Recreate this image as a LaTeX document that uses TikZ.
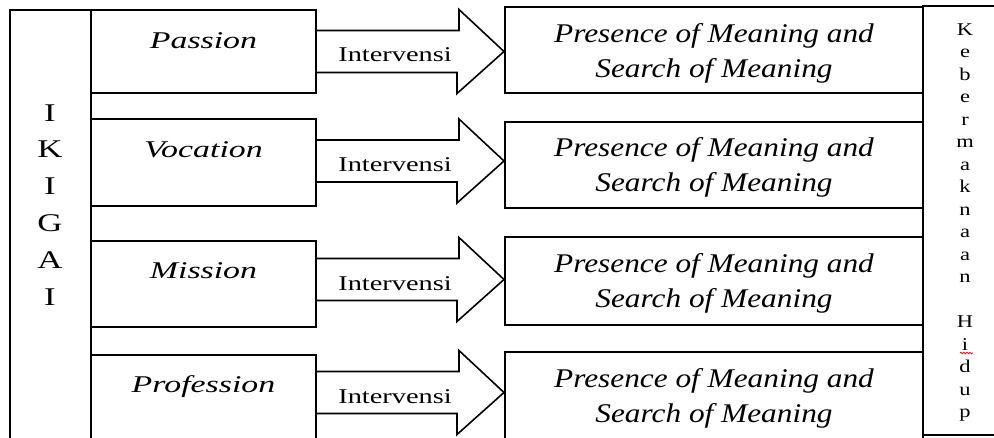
\documentclass[tikz,border=0pt]{standalone}
\usepackage{fontspec}
\setmainfont{Liberation Serif}
\usepackage{graphicx}
\usetikzlibrary{calc,decorations.pathmorphing}
\newcommand\hs[2]{\scalebox{#1}[1]{#2}}
\newcommand\blockarrow[3]{%
  \draw[arrowshape] (#1.east |- 0,#3) ++(0,-21) -- ++(142,0) -- ++(0,-21)
    -- (#2.west |- 0,#3) -- ++(-47,42) -- ++(0,-21) -- ++(-142,0);}
\tikzset{
  boxs/.style={draw=black, line width=2pt, inner sep=0pt},
  arrowshape/.style={draw=black, line width=1.6pt, line join=miter, miter limit=10},
  lefttext/.style={inner sep=0pt, anchor=base, font=\fontsize{24}{28}\selectfont\itshape},
  righttext/.style={inner sep=0pt, align=center, font=\fontsize{27}{35}\selectfont\itshape},
  intv/.style={inner sep=0pt, anchor=base, font=\fontsize{21}{24}\selectfont},
  ikletter/.style={inner sep=0pt, anchor=base, font=\fontsize{25.5}{28}\selectfont},
  kbletter/.style={inner sep=0pt, anchor=base, font=\fontsize{18}{20}\selectfont},
}
\begin{document}
\begin{tikzpicture}[x=1pt,y=-1pt]
\useasboundingbox (0,0) rectangle (994,437);
\clip (0,0) rectangle (994,437);
\fill[white] (0,0) rectangle (994,437);

% big side boxes
\node[boxs, minimum width=81, minimum height=450] (ik) at (50.5,235) {};
\node[boxs, minimum width=77, minimum height=429] (kb) at (961.5,220.5) {};

% left boxes
\node[boxs, minimum width=225, minimum height=83]  (L1) at (203.5,51.5) {};
\node[boxs, minimum width=225, minimum height=87]  (L2) at (203.5,162.5) {};
\node[boxs, minimum width=225, minimum height=86]  (L3) at (203.5,284) {};
\node[boxs, minimum width=225, minimum height=110] (L4) at (203.5,410) {};

% right boxes
\node[boxs, minimum width=418, minimum height=86]  (P1) at (714,50) {};
\node[boxs, minimum width=418, minimum height=86]  (P2) at (714,165) {};
\node[boxs, minimum width=418, minimum height=88]  (P3) at (714,281) {};
\node[boxs, minimum width=418, minimum height=108] (P4) at (714,406) {};

% left labels
\node[lefttext] (t1) at (203.5,48)  {\hs{1.41}{Passion}};
\node[lefttext] (t2) at (203.5,157) {\hs{1.41}{Vocation}};
\node[lefttext] (t3) at (203.5,278) {\hs{1.41}{Mission}};
\node[lefttext] (t4) at (203.5,392) {\hs{1.41}{Profession}};

% right labels
\node[righttext] (m1) at (714,53)  {\hs{1.16}{Presence of Meaning and}\\\hs{1.16}{Search of Meaning}};
\node[righttext] (m2) at (714,167) {\hs{1.16}{Presence of Meaning and}\\\hs{1.16}{Search of Meaning}};
\node[righttext] (m3) at (714,283) {\hs{1.16}{Presence of Meaning and}\\\hs{1.16}{Search of Meaning}};
\node[righttext] (m4) at (714,398) {\hs{1.16}{Presence of Meaning and}\\\hs{1.16}{Search of Meaning}};

% block arrows
\blockarrow{L1}{P1}{51.5}
\blockarrow{L2}{P2}{161}
\blockarrow{L3}{P3}{279.5}
\blockarrow{L4}{P4}{392.5}

\node[intv] (i1) at (395,61)  {\hs{1.35}{Intervensi}};
\node[intv] (i2) at (395,171) {\hs{1.35}{Intervensi}};
\node[intv] (i3) at (395,290) {\hs{1.35}{Intervensi}};
\node[intv] (i4) at (395,403) {\hs{1.35}{Intervensi}};

% IKIGAI
\foreach \ch [count=\n] in {I,K,I,G,A,I}
  \node[ikletter] (g\n) at (50,{121+36.8*(\n-1)}) {\hs{1.36}{\ch}};

% Kebermaknaan Hidup
\foreach \ch [count=\n] in {K,e,b,e,r,m,a,k,n,a,a,n}
  \node[kbletter] (k\n) at (965,{35+22.5*(\n-1)}) {\hs{1.25}{\ch}};
\foreach \ch [count=\n] in {H,i,d,u,p}
  \node[kbletter] (h\n) at (965,{327.5+22.5*(\n-1)}) {\hs{1.25}{\ch}};

\draw[red, line width=0.7pt, decorate, decoration={snake, amplitude=0.9pt, segment length=3pt}]
  ($(h2.base)+(-5,3)$) -- ($(h2.base)+(8,3)$);
\end{tikzpicture}
\end{document}
